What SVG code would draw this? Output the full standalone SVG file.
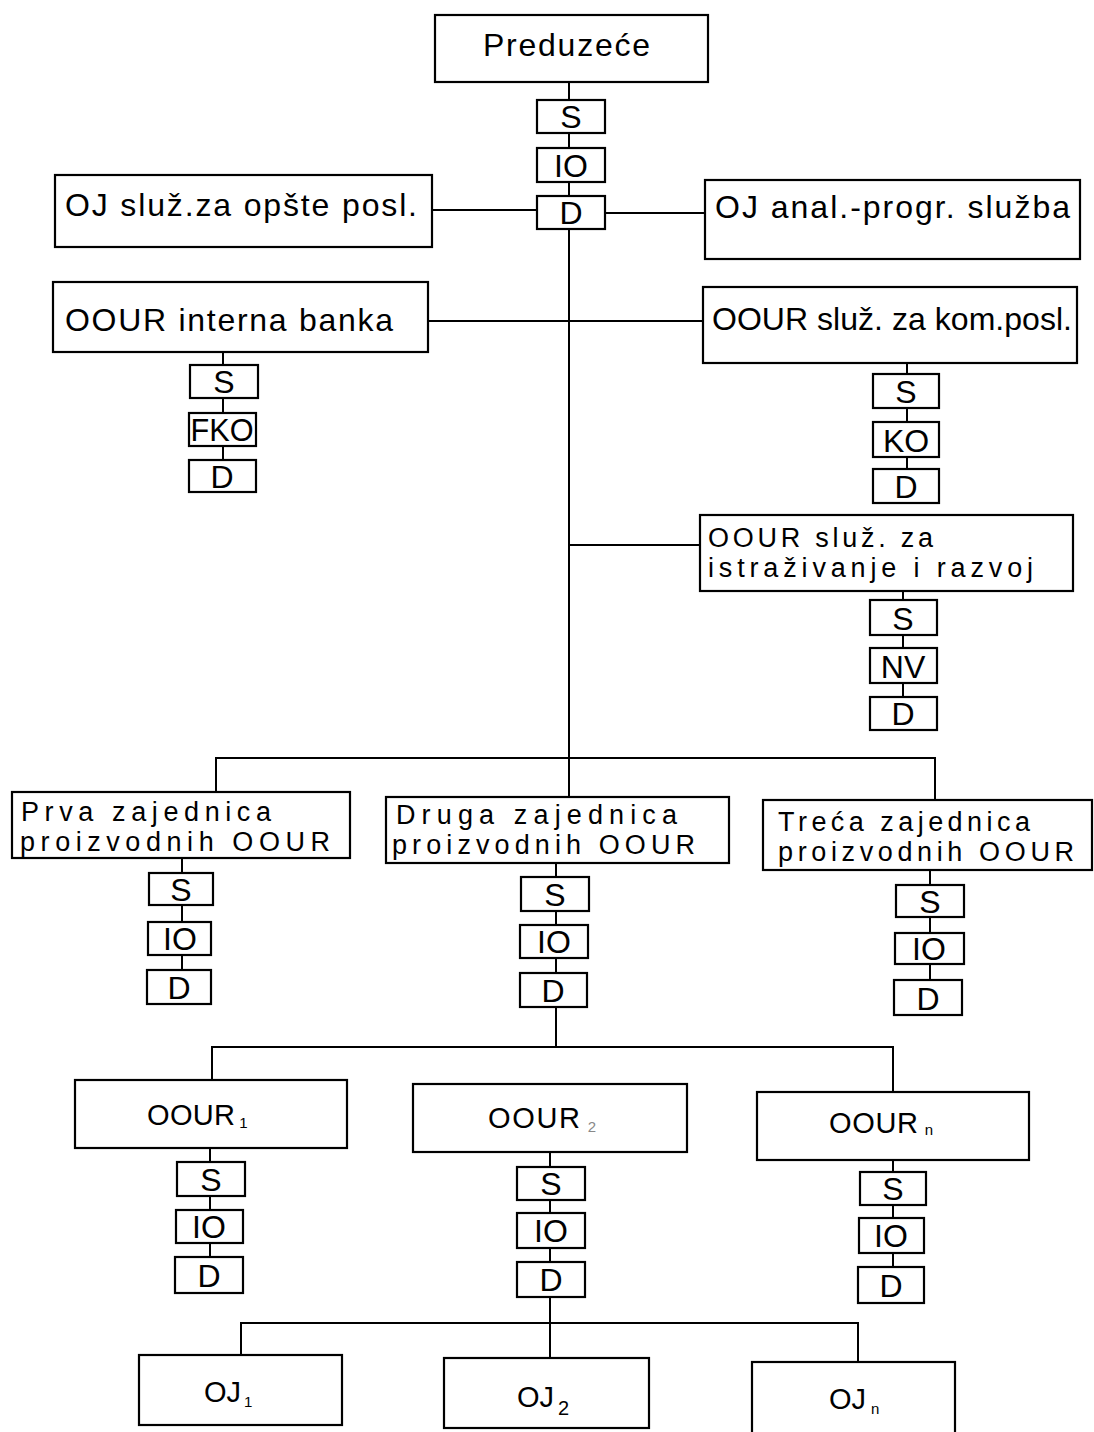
<svg xmlns="http://www.w3.org/2000/svg" width="1094" height="1432" viewBox="0 0 1094 1432">
<style>
.b{fill:#fff;stroke:#000;stroke-width:2.2}
.t{font-family:"Liberation Sans",Arial,sans-serif;font-size:32px;fill:#000}
.t2{font-family:"Liberation Sans",Arial,sans-serif;font-size:27px;fill:#000}
.t3{font-family:"Liberation Sans",Arial,sans-serif;font-size:29px;fill:#000}
.s{font-family:"Liberation Sans",Arial,sans-serif;font-size:32px;fill:#000;text-anchor:middle}
.c{stroke:#000;stroke-width:2;fill:none}
.sub{font-size:15px}
</style>
<rect width="1094" height="1432" fill="#fff"/>
<g id="connectors" class="c">
<path d="M569,82V100M569,133V148M569,182V196M569,229V797"/>
<path d="M432,210H537M605,213H705M428,321H703M569,545H700"/>
<path d="M223,352V365M223,398V413M223,446V460"/>
<path d="M907,363V374M907,408V422M907,457V469"/>
<path d="M903,591V600M903,635V648M903,683V697"/>
<path d="M216,792V758H935V800"/>
<path d="M182,858V873M182,905V922M182,955V970"/>
<path d="M556,863V877M556,911V925M556,958V973M556,1007V1047"/>
<path d="M930,870V885M930,917V933M930,964V980"/>
<path d="M212,1080V1047H893V1092"/>
<path d="M210,1148V1162M210,1196V1210M210,1243V1257"/>
<path d="M550,1152V1167M550,1200V1213M550,1248V1262M550,1297V1358"/>
<path d="M893,1160V1172M893,1205V1218M893,1253V1267"/>
<path d="M241,1355V1323H858V1362"/>
</g>
<g id="preduzece"><rect class="b" x="435" y="15" width="273" height="67"/><text class="t" x="483" y="56" textLength="167" lengthAdjust="spacing">Preduzeće</text></g>
<g id="p-s"><rect class="b" x="537" y="100" width="68" height="33"/><text class="s" x="571" y="128">S</text></g>
<g id="p-io"><rect class="b" x="537" y="148" width="68" height="34"/><text class="s" x="571" y="177">IO</text></g>
<g id="p-d"><rect class="b" x="537" y="196" width="68" height="33"/><text class="s" x="571" y="224">D</text></g>
<g id="oj-opste"><rect class="b" x="55" y="175" width="377" height="72"/><text class="t" x="65" y="216" textLength="352" lengthAdjust="spacing">OJ služ.za opšte posl.</text></g>
<g id="oj-anal"><rect class="b" x="705" y="180" width="375" height="79"/><text class="t" x="715" y="218" textLength="355" lengthAdjust="spacing">OJ anal.-progr. služba</text></g>
<g id="oour-banka"><rect class="b" x="53" y="282" width="375" height="70"/><text class="t" x="65" y="331" textLength="328" lengthAdjust="spacing">OOUR interna banka</text></g>
<g id="b-s"><rect class="b" x="190" y="365" width="68" height="33"/><text class="s" x="224" y="393">S</text></g>
<g id="b-fko"><rect class="b" x="189" y="413" width="67" height="33"/><text class="s" x="222" y="441" textLength="63" lengthAdjust="spacingAndGlyphs">FKO</text></g>
<g id="b-d"><rect class="b" x="189" y="460" width="67" height="32"/><text class="s" x="222" y="488">D</text></g>
<g id="oour-kom"><rect class="b" x="703" y="287" width="374" height="76"/><text class="t" x="712" y="330" textLength="360" lengthAdjust="spacing">OOUR služ. za kom.posl.</text></g>
<g id="k-s"><rect class="b" x="873" y="374" width="66" height="34"/><text class="s" x="906" y="403">S</text></g>
<g id="k-ko"><rect class="b" x="873" y="422" width="66" height="35"/><text class="s" x="906" y="452">KO</text></g>
<g id="k-d"><rect class="b" x="873" y="469" width="66" height="34"/><text class="s" x="906" y="498">D</text></g>
<g id="oour-istr"><rect class="b" x="700" y="515" width="373" height="76"/><text class="t2" x="708" y="547" textLength="225" lengthAdjust="spacing">OOUR služ. za</text><text class="t2" x="708" y="577" textLength="325" lengthAdjust="spacing">istraživanje i razvoj</text></g>
<g id="i-s"><rect class="b" x="870" y="600" width="67" height="35"/><text class="s" x="903" y="630">S</text></g>
<g id="i-nv"><rect class="b" x="870" y="648" width="67" height="35"/><text class="s" x="903" y="678">NV</text></g>
<g id="i-d"><rect class="b" x="870" y="697" width="67" height="33"/><text class="s" x="903" y="725">D</text></g>
<g id="prva"><rect class="b" x="12" y="792" width="338" height="66"/><text class="t2" x="21" y="821" textLength="250" lengthAdjust="spacing">Prva zajednica</text><text class="t2" x="20" y="851" textLength="310" lengthAdjust="spacing">proizvodnih  OOUR</text></g>
<g id="pr-s"><rect class="b" x="149" y="873" width="64" height="32"/><text class="s" x="181" y="901">S</text></g>
<g id="pr-io"><rect class="b" x="148" y="922" width="63" height="33"/><text class="s" x="180" y="950">IO</text></g>
<g id="pr-d"><rect class="b" x="147" y="970" width="64" height="34"/><text class="s" x="179" y="999">D</text></g>
<g id="druga"><rect class="b" x="386" y="797" width="343" height="66"/><text class="t2" x="396" y="824" textLength="281" lengthAdjust="spacing">Druga zajednica</text><text class="t2" x="392" y="854" textLength="303" lengthAdjust="spacing">proizvodnih OOUR</text></g>
<g id="dr-s"><rect class="b" x="521" y="877" width="68" height="34"/><text class="s" x="555" y="906">S</text></g>
<g id="dr-io"><rect class="b" x="520" y="925" width="68" height="33"/><text class="s" x="554" y="953">IO</text></g>
<g id="dr-d"><rect class="b" x="520" y="973" width="67" height="34"/><text class="s" x="553" y="1002">D</text></g>
<g id="treca"><rect class="b" x="763" y="800" width="329" height="70"/><text class="t2" x="778" y="831" textLength="252" lengthAdjust="spacing">Treća zajednica</text><text class="t2" x="778" y="861" textLength="296" lengthAdjust="spacing">proizvodnih OOUR</text></g>
<g id="tr-s"><rect class="b" x="896" y="885" width="68" height="32"/><text class="s" x="930" y="913">S</text></g>
<g id="tr-io"><rect class="b" x="895" y="933" width="69" height="31"/><text class="s" x="929" y="960">IO</text></g>
<g id="tr-d"><rect class="b" x="894" y="980" width="68" height="35"/><text class="s" x="928" y="1010">D</text></g>
<g id="oour1"><rect class="b" x="75" y="1080" width="272" height="68"/><text class="t3" x="147" y="1125"><tspan textLength="88" lengthAdjust="spacing">OOUR</tspan><tspan class="sub" dx="4" dy="3">1</tspan></text></g>
<g id="o1-s"><rect class="b" x="177" y="1162" width="68" height="34"/><text class="s" x="211" y="1191">S</text></g>
<g id="o1-io"><rect class="b" x="176" y="1210" width="67" height="33"/><text class="s" x="209" y="1238">IO</text></g>
<g id="o1-d"><rect class="b" x="175" y="1257" width="68" height="36"/><text class="s" x="209" y="1287">D</text></g>
<g id="oour2"><rect class="b" x="413" y="1084" width="274" height="68"/><text class="t3" x="488" y="1128"><tspan textLength="92" lengthAdjust="spacing">OOUR</tspan><tspan class="sub" dx="6" dy="4" fill="#888">2</tspan></text></g>
<g id="o2-s"><rect class="b" x="517" y="1167" width="68" height="33"/><text class="s" x="551" y="1195">S</text></g>
<g id="o2-io"><rect class="b" x="517" y="1213" width="68" height="35"/><text class="s" x="551" y="1242">IO</text></g>
<g id="o2-d"><rect class="b" x="517" y="1262" width="68" height="35"/><text class="s" x="551" y="1291">D</text></g>
<g id="oourn"><rect class="b" x="757" y="1092" width="272" height="68"/><text class="t3" x="829" y="1133"><tspan textLength="89" lengthAdjust="spacing">OOUR</tspan><tspan class="sub" dx="6" dy="2">n</tspan></text></g>
<g id="on-s"><rect class="b" x="860" y="1172" width="66" height="33"/><text class="s" x="893" y="1200">S</text></g>
<g id="on-io"><rect class="b" x="859" y="1218" width="65" height="35"/><text class="s" x="891" y="1247">IO</text></g>
<g id="on-d"><rect class="b" x="858" y="1267" width="66" height="36"/><text class="s" x="891" y="1297">D</text></g>
<g id="oj1"><rect class="b" x="139" y="1355" width="203" height="70"/><text class="t3" x="204" y="1402">OJ<tspan class="sub" dx="3" dy="5">1</tspan></text></g>
<g id="oj2"><rect class="b" x="444" y="1358" width="205" height="70"/><text class="t3" x="517" y="1407">OJ<tspan font-size="20" dx="4" dy="8">2</tspan></text></g>
<g id="ojn"><rect class="b" x="752" y="1362" width="203" height="72"/><text class="t3" x="829" y="1409">OJ<tspan class="sub" dx="5" dy="5">n</tspan></text></g>
</svg>
